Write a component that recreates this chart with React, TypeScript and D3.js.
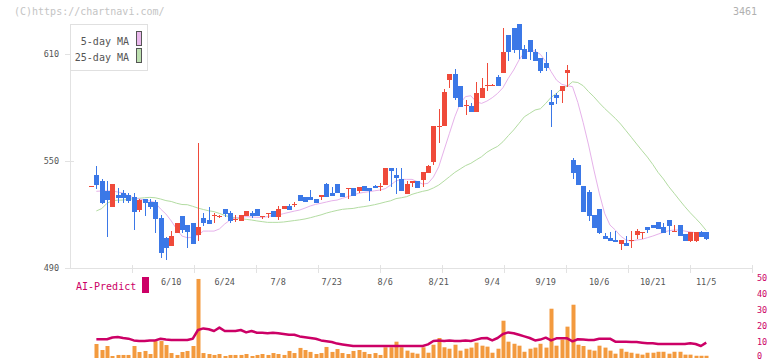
import React from "react";
import * as d3 from "d3";

const dates = [
  "5/20","5/21","5/22","5/23","5/26","5/27","5/28","5/29","5/30",
  "6/2","6/3","6/4","6/5","6/6","6/9","6/10","6/11","6/12","6/13","6/16","6/17","6/18","6/19","6/20","6/23","6/24","6/25","6/26","6/27","6/30",
  "7/1","7/2","7/3","7/4","7/7","7/8","7/9","7/10","7/11","7/14","7/15","7/16","7/17","7/18","7/22","7/23","7/24","7/25","7/28","7/29","7/30","7/31",
  "8/1","8/4","8/5","8/6","8/7","8/8","8/12","8/13","8/14","8/15","8/18","8/19","8/20","8/21","8/22","8/25","8/26","8/27","8/28","8/29",
  "9/1","9/2","9/3","9/4","9/5","9/8","9/9","9/10","9/11","9/12","9/16","9/17","9/18","9/19","9/22","9/24","9/25","9/26","9/29","9/30",
  "10/1","10/2","10/3","10/6","10/7","10/8","10/9","10/10","10/14","10/15","10/16","10/17","10/20","10/21","10/22","10/23","10/24","10/27","10/28","10/29","10/30","10/31",
  "11/4","11/5"
];

const open = [
  535.8,542.1,538.8,533.2,524.2,530.9,532.0,530.9,529.8,522.7,
  528.7,527.0,527.0,518.0,506.8,502.5,509.8,519.2,514.1,515.2,
  508.5,518.0,516.9,519.0,519.0,523.1,520.8,517.0,516.5,519.3,
  520.8,523.1,519.2,520.7,522.0,518.6,523.2,525.0,525.7,530.9,
  529.8,529.8,528.7,529.8,537.1,532.0,537.1,532.0,534.5,534.7,
  533.3,536.0,534.9,536.0,535.4,536.7,546.1,542.3,539.9,531.5,
  537.5,538.8,539.6,543.5,549.6,569.3,569.6,595.6,598.7,592.0,
  580.8,581.0,577.6,585.5,592.2,592.2,597.1,599.5,620.6,624.6,
  626.8,612.8,617.8,611.1,607.7,605.0,583.1,587.0,589.2,599.3,
  550.3,547.8,536.0,532.6,519.9,523.2,507.9,506.8,505.7,503.6,
  504.2,505.6,508.5,510.1,513.0,514.1,515.8,513.0,516.9,510.6,
  514.1,509.0,505.1,505.1,510.2,510.2
];
const high = [
  535.9,547.2,539.9,538.8,537.1,534.9,533.7,532.0,532.0,528.9,
  528.7,528.5,528.0,519.7,507.5,510.7,515.2,519.2,514.1,515.2,
  560.0,520.8,524.2,520.8,520.0,523.1,522.0,519.8,519.7,522.0,
  522.0,523.1,519.4,520.9,522.0,524.5,524.6,526.0,526.8,531.0,
  529.8,533.7,528.7,530.9,537.6,535.4,537.1,532.0,534.9,534.7,
  535.6,536.0,534.9,536.6,537.6,546.1,546.1,546.1,546.0,538.8,
  538.8,538.8,544.0,548.0,569.6,579.2,590.4,598.7,601.5,592.0,
  584.0,582.5,594.4,596.4,605.0,593.0,598.0,624.6,620.6,624.6,
  626.8,615.0,617.8,612.8,607.7,611.1,589.8,588.3,592.0,603.8,
  551.7,547.8,536.0,533.5,519.9,523.2,509.8,510.2,510.7,505.7,
  508.0,510.7,511.8,510.3,513.0,514.1,515.8,515.2,516.9,514.1,
  514.1,509.0,510.2,510.2,511.0,510.2
];
const low = [
  535.8,534.3,525.8,507.6,524.2,526.6,526.6,526.6,511.5,521.6,
  519.3,523.0,509.8,495.8,494.7,502.5,509.8,509.8,501.4,503.6,
  505.3,513.7,514.8,515.4,518.0,518.5,515.4,516.0,516.5,519.3,
  518.0,519.3,517.5,518.0,518.6,517.0,523.2,522.5,524.0,527.6,
  526.8,527.9,526.4,528.0,529.6,530.5,531.9,529.8,528.7,530.5,
  532.0,533.0,527.6,534.7,533.3,536.7,535.6,531.5,533.3,531.5,
  535.6,534.7,535.6,543.3,548.0,560.3,569.6,590.9,584.0,580.4,
  575.9,577.6,577.6,585.5,589.4,592.0,592.3,599.5,606.0,610.6,
  607.4,607.2,606.6,606.1,599.3,600.5,569.2,581.9,582.7,591.7,
  539.7,536.5,521.6,516.5,512.6,509.0,506.4,505.3,504.8,500.3,
  502.5,501.4,506.3,506.3,509.6,512.4,511.9,509.6,508.7,510.6,
  507.9,505.1,504.7,504.7,507.4,505.8
];
const close = [
  535.9,536.5,526.4,528.1,537.1,529.4,529.4,527.7,521.6,528.3,
  526.4,524.2,517.6,498.4,501.4,507.9,515.2,511.3,510.4,503.6,
  513.0,515.2,514.8,519.5,519.3,520.4,516.5,517.3,519.7,522.0,
  519.2,519.3,519.4,520.9,518.6,523.1,524.6,522.5,526.0,527.6,
  526.8,527.9,526.4,530.9,529.6,530.5,531.9,529.8,534.9,530.5,
  535.6,533.0,533.0,534.7,535.8,546.1,544.6,540.5,533.3,537.1,
  538.8,534.7,544.0,547.4,569.6,569.9,588.7,598.7,585.5,580.4,
  581.2,577.6,588.1,591.0,592.5,592.5,592.3,611.1,611.1,612.2,
  612.2,607.2,611.1,606.1,600.5,602.1,581.6,585.5,592.0,601.0,
  543.4,536.6,521.6,519.3,512.6,509.8,506.4,505.3,504.8,505.7,
  502.5,505.8,510.7,510.3,511.3,512.4,511.9,509.6,513.5,510.8,
  507.9,505.1,510.2,510.2,507.4,506.3
];

const ma5 = [
  null,533.0,533.2,533.2,533.2,532.6,532.0,530.4,529.4,528.7,
  528.1,527.6,526.7,523.1,520.3,516.4,511.9,507.9,507.0,507.2,
  508.5,510.7,510.7,510.7,511.9,514.7,516.9,518.2,518.4,518.8,
  518.6,518.4,518.4,518.8,519.5,519.7,520.5,521.2,521.9,522.5,
  523.6,524.8,525.7,526.3,527.0,527.7,528.1,529.1,530.0,530.9,
  531.9,532.4,532.8,533.3,533.7,534.5,536.5,538.8,539.7,539.7,
  539.7,538.4,537.1,537.5,541.0,546.8,556.2,565.5,574.8,582.3,
  586.1,586.6,583.2,582.3,583.6,585.5,587.9,591.1,596.4,601.0,
  606.6,610.9,611.7,611.7,609.8,605.7,600.1,595.4,593.0,592.2,
  591.7,582.8,571.5,559.0,545.0,532.0,520.7,514.1,511.3,507.9,
  505.7,505.1,505.7,506.1,507.0,507.9,509.0,510.0,510.9,511.3,
  511.3,510.7,510.2,509.8,509.8,509.8
];
const ma25 = [
  null,522.0,523.3,526.3,527.7,528.0,528.1,528.5,528.9,529.1,
  529.4,529.6,529.4,528.7,527.8,527.3,526.3,525.6,525.5,524.6,
  523.6,522.8,522.1,521.6,520.6,519.5,518.6,518.2,517.6,517.3,
  516.9,516.4,516.0,515.6,515.6,515.6,515.8,516.2,516.6,517.0,
  517.5,518.2,519.0,519.8,520.8,521.6,522.3,522.9,523.2,523.4,
  524.0,524.4,524.9,525.5,526.2,527.0,527.7,528.9,529.4,530.0,
  531.3,532.2,533.0,533.6,534.9,536.5,538.8,541.2,543.6,545.5,
  547.4,548.7,550.6,552.4,554.9,556.7,558.2,560.8,564.2,567.4,
  571.1,574.8,576.7,578.6,579.3,582.3,585.7,587.9,590.8,591.9,
  594.4,594.0,592.2,588.9,586.0,582.6,579.5,576.7,573.9,570.7,
  567.0,563.3,559.5,555.8,552.2,548.1,543.6,539.9,535.6,531.9,
  528.1,524.4,521.0,517.9,514.7,511.0
];

const volume = [
  null,8.75,5.0,7.5,1.25,1.9,1.9,1.9,7.5,3.75,
  4.4,2.5,10.6,10.6,8.1,3.1,1.9,3.75,4.4,7.5,
  49.4,3.1,2.5,1.9,2.5,1.25,1.9,1.9,1.9,2.5,
  1.25,1.9,2.5,1.9,3.1,2.5,1.9,4.4,3.1,6.3,
  5.0,3.8,2.5,3.1,6.9,3.8,5.6,3.1,2.5,4.4,
  5.0,3.8,2.5,3.1,1.9,6.7,6.7,10.2,6.7,4.6,
  3.3,2.7,6.7,3.3,8.3,12.5,6.7,5.8,8.3,4.6,
  5.8,6.5,9.6,7.7,7.1,3.3,5.8,23.3,10.2,8.9,
  7.7,3.9,5.8,6.5,8.9,6.5,30.8,7.7,11.5,19.6,
  33.3,8.3,7.5,5.2,4.6,7.7,6.5,4.6,2.7,5.8,
  3.9,3.3,2.7,2.1,3.3,3.3,3.9,3.9,2.7,3.9,
  3.9,2.1,2.1,1.4,1.4,1.4
];
const aiPredict = [
  null,11.7,11.7,11.7,12.8,13.1,12.5,12.1,11.0,10.6,
  10.6,11.0,11.0,12.0,11.5,11.25,11.25,11.25,11.25,12.0,
  17.5,18.5,18.0,16.9,19.0,16.9,16.9,16.9,17.5,16.0,
  16.9,15.8,15.8,15.5,15.8,15.5,15.0,14.5,14.5,13.5,
  13.0,12.5,12.0,11.0,10.5,10.0,9.0,8.5,8.0,7.5,
  7.5,7.5,7.5,7.5,7.5,7.5,7.5,7.5,7.5,7.5,
  7.5,7.5,7.5,8.5,10.6,10.9,10.6,10.9,10.6,10.6,
  10.9,10.6,11.5,12.3,12.5,11.0,12.5,15.0,16.0,15.5,
  14.5,13.5,12.5,11.0,11.5,12.7,11.0,12.3,12.3,12.3,
  10.4,11.7,11.5,11.25,11.25,12.0,12.1,12.1,10.2,10.2,
  10.2,10.0,10.0,9.6,9.2,9.2,8.75,8.75,8.75,8.75,
  8.75,8.75,9.2,8.75,7.5,9.6
];

const priceTicks = [490, 550, 610];
const dateTicks = ["6/10","6/24","7/8","7/23","8/6","8/21","9/4","9/19","10/6","10/21","11/5"];
const volTicks = [0, 10, 20, 30, 40, 50];

const UP = "#ef4a3a";
const DOWN = "#3b78e7";
const MA5C = "#e6b2ea";
const MA25C = "#b3dca2";
const AIC = "#cc0066";
const VOLC = "#f39a3e";
const FONT = "'DejaVu Sans Mono', 'Liberation Mono', monospace";

export default function App() {
  const plotL = 70, plotR = 752, plotB = 268;
  const x = d3.scalePoint<string>().domain(dates).range([91, 706.25]);
  const y = d3.scaleLinear().domain([490, 610]).range([268, 54]);
  const yv = d3.scaleLinear().domain([0, 50]).range([358, 278]);
  const xi = (i: number) => x(dates[i]) as number;

  const lineP = d3.line<number | null>()
    .defined((d) => d != null)
    .x((_, i) => xi(i))
    .y((d) => y(d as number));
  const lineV = d3.line<number | null>()
    .defined((d) => d != null)
    .x((_, i) => xi(i))
    .y((d) => yv(d as number));

  const gridTicks = d3.range(1, 12).map((k) => plotL + (k * (plotR - plotL)) / 11);

  return (
    <svg width={772} height={361} style={{ position: "absolute", left: 0, top: 0, background: "#fff" }}
      fontFamily={FONT}>
      <rect x={0} y={0} width={772} height={361} fill="#fff" />
      <text x={14} y={15} fontSize={10} fill="#c4c4c4">(C)https://chartnavi.com/</text>
      <text x={757} y={15} fontSize={10} fill="#b0b0b0" textAnchor="end">3461</text>

      {/* axes */}
      <line x1={plotL + 0.5} x2={plotL + 0.5} y1={24} y2={plotB} stroke="#e2e2e2" />
      <line x1={plotL} x2={plotR} y1={plotB + 0.5} y2={plotB + 0.5} stroke="#e2e2e2" />
      {gridTicks.map((gx, k) => (
        <line key={"gt" + k} x1={Math.round(gx) + 0.5} x2={Math.round(gx) + 0.5} y1={265} y2={273} stroke="#e2e2e2" />
      ))}
      {priceTicks.map((p) => (
        <g key={"pt" + p}>
          <line x1={65} x2={74} y1={Math.round(y(p)) + 0.5} y2={Math.round(y(p)) + 0.5} stroke="#e2e2e2" />
          <text x={59} y={y(p) + 3} fontSize={8.5} fill="#555" textAnchor="end">{p}</text>
        </g>
      ))}
      {dateTicks.map((d) => (
        <text key={"dt" + d} x={xi(dates.indexOf(d))} y={285} fontSize={8.5} fill="#555" textAnchor="middle">{d}</text>
      ))}

      {/* moving averages */}
      <path d={lineP(ma25) || ""} fill="none" stroke={MA25C} strokeWidth={1} />
      <path d={lineP(ma5) || ""} fill="none" stroke={MA5C} strokeWidth={1} />

      {/* candles */}
      {dates.map((d, i) => {
        const o = open[i], c = close[i], h = high[i], l = low[i];
        const col = c >= o ? UP : DOWN;
        const cx = Math.round(xi(i));
        const top = Math.round(y(Math.max(o, c)));
        const bot = Math.round(y(Math.min(o, c)));
        return (
          <g key={"c" + i}>
            <line x1={cx + 0.5} x2={cx + 0.5} y1={Math.round(y(h))} y2={Math.round(y(l))} stroke={col} strokeWidth={1} />
            <rect x={cx - 2} y={top} width={5} height={Math.max(1, bot - top)} fill={col} />
          </g>
        );
      })}

      {/* legend */}
      <rect x={70.5} y={24.5} width={77} height={46} fill="#fff" stroke="#e0e0e0" />
      <text x={129} y={45} fontSize={10} fill="#555" textAnchor="end">5-day MA</text>
      <text x={129} y={61} fontSize={10} fill="#555" textAnchor="end">25-day MA</text>
      <rect x={136.5} y={31.5} width={5} height={14} fill="#eab8ec" stroke="#555" />
      <rect x={136.5} y={48.5} width={5} height={14} fill="#bde0b0" stroke="#555" />

      {/* volume panel */}
      {volume.map((v, i) =>
        v == null ? null : (
          <rect key={"v" + i} x={Math.round(xi(i)) - 1.5} y={yv(v)} width={4} height={yv(0) - yv(v)} fill={VOLC} />
        )
      )}
      <path d={lineV(aiPredict) || ""} fill="none" stroke={AIC} strokeWidth={2.5} strokeLinejoin="round" />
      {volTicks.map((t) => (
        <text key={"vt" + t} x={757} y={Math.min(yv(t) + 3, 359)} fontSize={8.5} fill={AIC}>{t}</text>
      ))}
      <text x={76} y={290} fontSize={10} fill={AIC}>AI-Predict</text>
      <rect x={142} y={277} width={7} height={16} fill={AIC} />
    </svg>
  );
}
